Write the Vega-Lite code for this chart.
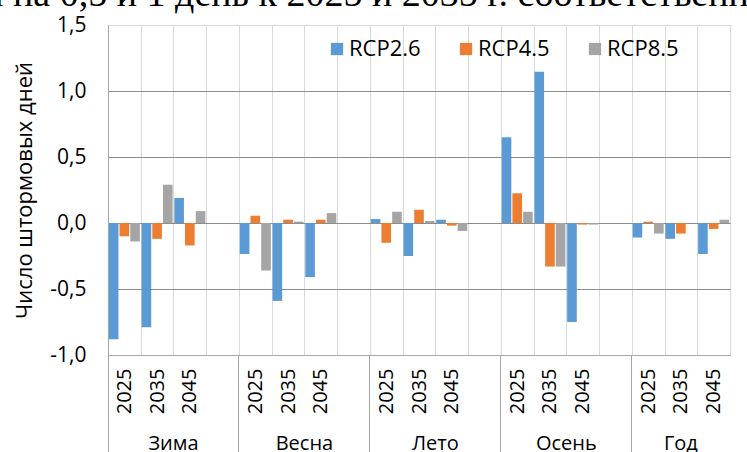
{
  "$schema": "https://vega.github.io/schema/vega-lite/v6.json",
  "autosize": {"type": "none"},
  "padding": {"left": 108, "top": 25, "right": 17, "bottom": 97},
  "width": 622,
  "height": 330,
  "background": "white",
  "title": {
    "text": "ы на 0,5 и 1 день к 2025 и 2035 г. соответственно",
    "anchor": "start",
    "frame": "group",
    "font": "Liberation Serif",
    "fontSize": 38,
    "fontWeight": "normal",
    "color": "#000000",
    "offset": 0,
    "dx": -130,
    "dy": 0
  },
  "config": {
    "view": {"stroke": "#d9d9d9", "strokeWidth": 1},
    "axis": {
      "labelFont": "Open Sans",
      "titleFont": "Open Sans",
      "labelColor": "#000000",
      "titleColor": "#000000",
      "labelFontSize": 20,
      "titleFontSize": 22,
      "titleFontWeight": "normal"
    },
    "legend": {"labelFont": "Open Sans", "labelColor": "#000000"}
  },
  "data": {
    "values": [
      {"slot": "Зима|2025", "scenario": "RCP2.6", "value": -0.88},
      {"slot": "Зима|2025", "scenario": "RCP4.5", "value": -0.10},
      {"slot": "Зима|2025", "scenario": "RCP8.5", "value": -0.14},
      {"slot": "Зима|2035", "scenario": "RCP2.6", "value": -0.79},
      {"slot": "Зима|2035", "scenario": "RCP4.5", "value": -0.12},
      {"slot": "Зима|2035", "scenario": "RCP8.5", "value": 0.29},
      {"slot": "Зима|2045", "scenario": "RCP2.6", "value": 0.19},
      {"slot": "Зима|2045", "scenario": "RCP4.5", "value": -0.17},
      {"slot": "Зима|2045", "scenario": "RCP8.5", "value": 0.09},
      {"slot": "Весна|2025", "scenario": "RCP2.6", "value": -0.235},
      {"slot": "Весна|2025", "scenario": "RCP4.5", "value": 0.055},
      {"slot": "Весна|2025", "scenario": "RCP8.5", "value": -0.36},
      {"slot": "Весна|2035", "scenario": "RCP2.6", "value": -0.59},
      {"slot": "Весна|2035", "scenario": "RCP4.5", "value": 0.025},
      {"slot": "Весна|2035", "scenario": "RCP8.5", "value": 0.01},
      {"slot": "Весна|2045", "scenario": "RCP2.6", "value": -0.41},
      {"slot": "Весна|2045", "scenario": "RCP4.5", "value": 0.025},
      {"slot": "Весна|2045", "scenario": "RCP8.5", "value": 0.075},
      {"slot": "Лето|2025", "scenario": "RCP2.6", "value": 0.03},
      {"slot": "Лето|2025", "scenario": "RCP4.5", "value": -0.15},
      {"slot": "Лето|2025", "scenario": "RCP8.5", "value": 0.085},
      {"slot": "Лето|2035", "scenario": "RCP2.6", "value": -0.25},
      {"slot": "Лето|2035", "scenario": "RCP4.5", "value": 0.10},
      {"slot": "Лето|2035", "scenario": "RCP8.5", "value": 0.015},
      {"slot": "Лето|2045", "scenario": "RCP2.6", "value": 0.025},
      {"slot": "Лето|2045", "scenario": "RCP4.5", "value": -0.02},
      {"slot": "Лето|2045", "scenario": "RCP8.5", "value": -0.06},
      {"slot": "Осень|2025", "scenario": "RCP2.6", "value": 0.65},
      {"slot": "Осень|2025", "scenario": "RCP4.5", "value": 0.225},
      {"slot": "Осень|2025", "scenario": "RCP8.5", "value": 0.085},
      {"slot": "Осень|2035", "scenario": "RCP2.6", "value": 1.145},
      {"slot": "Осень|2035", "scenario": "RCP4.5", "value": -0.33},
      {"slot": "Осень|2035", "scenario": "RCP8.5", "value": -0.33},
      {"slot": "Осень|2045", "scenario": "RCP2.6", "value": -0.75},
      {"slot": "Осень|2045", "scenario": "RCP4.5", "value": -0.012},
      {"slot": "Осень|2045", "scenario": "RCP8.5", "value": -0.012},
      {"slot": "Год|2025", "scenario": "RCP2.6", "value": -0.11},
      {"slot": "Год|2025", "scenario": "RCP4.5", "value": 0.01},
      {"slot": "Год|2025", "scenario": "RCP8.5", "value": -0.08},
      {"slot": "Год|2035", "scenario": "RCP2.6", "value": -0.12},
      {"slot": "Год|2035", "scenario": "RCP4.5", "value": -0.08},
      {"slot": "Год|2035", "scenario": "RCP8.5", "value": 0.0},
      {"slot": "Год|2045", "scenario": "RCP2.6", "value": -0.235},
      {"slot": "Год|2045", "scenario": "RCP4.5", "value": -0.045},
      {"slot": "Год|2045", "scenario": "RCP8.5", "value": 0.025}
    ]
  },
  "layer": [
    {
      "mark": {"type": "bar"},
      "encoding": {
        "x": {
          "field": "slot",
          "type": "nominal",
          "scale": {
            "domain": ["Зима|2025", "Зима|2035", "Зима|2045", "Зима|", "Весна|2025", "Весна|2035", "Весна|2045", "Весна|", "Лето|2025", "Лето|2035", "Лето|2045", "Лето|", "Осень|2025", "Осень|2035", "Осень|2045", "Осень|", "Год|2025", "Год|2035", "Год|2045"],
            "paddingInner": 0,
            "paddingOuter": 0
          },
          "axis": {
            "orient": "bottom",
            "title": null,
            "labelExpr": "split(datum.label, '|')[1]",
            "labelAngle": -90,
            "labelAlign": "right",
            "labelBaseline": "middle",
            "labelPadding": 13,
            "labelOverlap": false,
            "ticks": false,
            "tickBand": "extent",
            "grid": true,
            "gridColor": "#d9d9d9",
            "domain": true,
            "domainColor": "#a6a6a6"
          }
        },
        "xOffset": {
          "field": "scenario",
          "type": "nominal",
          "scale": {"paddingInner": 0.1, "paddingOuter": 0.08}
        },
        "y": {
          "field": "value",
          "type": "quantitative",
          "scale": {"domain": [-1, 1.5], "nice": false, "zero": false},
          "axis": {
            "title": "Число штормовых дней",
            "titlePadding": 13,
            "values": [-1, -0.5, 0, 0.5, 1, 1.5],
            "labelExpr": "replace(replace(format(datum.value, '.1f'), '.', ','), '−', '-')",
            "labelFontSize": 21,
            "labelPadding": 22,
            "ticks": false,
            "domain": true,
            "domainColor": "#a6a6a6",
            "grid": true,
            "gridColor": {"condition": {"test": "datum.value === 1.5", "value": "#d9d9d9"}, "value": "#8c8c8c"}
          }
        },
        "color": {
          "field": "scenario",
          "type": "nominal",
          "scale": {"domain": ["RCP2.6", "RCP4.5", "RCP8.5"], "range": ["#5B9BD5", "#ED7D31", "#A5A5A5"]},
          "legend": {
            "orient": "none",
            "legendX": 218,
            "legendY": 13,
            "direction": "horizontal",
            "title": null,
            "symbolType": "square",
            "symbolSize": 150,
            "symbolStrokeWidth": 0,
            "labelFontSize": 22,
            "labelOffset": 1,
            "columnPadding": 34,
            "padding": 0
          }
        }
      }
    },
    {
      "mark": {"type": "rule", "opacity": 0},
      "encoding": {
        "x": {
          "field": "slot",
          "type": "nominal",
          "scale": {
            "domain": ["Зима|2025", "Зима|2035", "Зима|2045", "Зима|", "Весна|2025", "Весна|2035", "Весна|2045", "Весна|", "Лето|2025", "Лето|2035", "Лето|2045", "Лето|", "Осень|2025", "Осень|2035", "Осень|2045", "Осень|", "Год|2025", "Год|2035", "Год|2045"]
          },
          "axis": {
            "orient": "bottom",
            "title": null,
            "values": ["Зима|2035", "Весна|2035", "Лето|2035", "Осень|2035", "Год|2035"],
            "labelExpr": "split(datum.label, '|')[0]",
            "labelAngle": 0,
            "labelAlign": "center",
            "labelBaseline": "top",
            "labelPadding": 78,
            "labelOverlap": false,
            "labelOffset": {"condition": {"test": "datum.value !== 'Год|2035'", "value": 16.37}, "value": 0},
            "ticks": false,
            "domain": false,
            "grid": false
          }
        }
      }
    },
    {
      "mark": {"type": "rule", "opacity": 0},
      "encoding": {
        "x": {
          "field": "slot",
          "type": "nominal",
          "scale": {
            "domain": ["Зима|2025", "Зима|2035", "Зима|2045", "Зима|", "Весна|2025", "Весна|2035", "Весна|2045", "Весна|", "Лето|2025", "Лето|2035", "Лето|2045", "Лето|", "Осень|2025", "Осень|2035", "Осень|2045", "Осень|", "Год|2025", "Год|2035", "Год|2045"]
          },
          "axis": {
            "orient": "bottom",
            "title": null,
            "values": ["Зима|2025", "Весна|2025", "Лето|2025", "Осень|2025", "Год|2025"],
            "bandPosition": 0,
            "labels": false,
            "ticks": true,
            "tickSize": 97,
            "tickColor": "#a6a6a6",
            "domain": false,
            "grid": false
          }
        }
      }
    }
  ],
  "resolve": {"axis": {"x": "independent"}}
}
